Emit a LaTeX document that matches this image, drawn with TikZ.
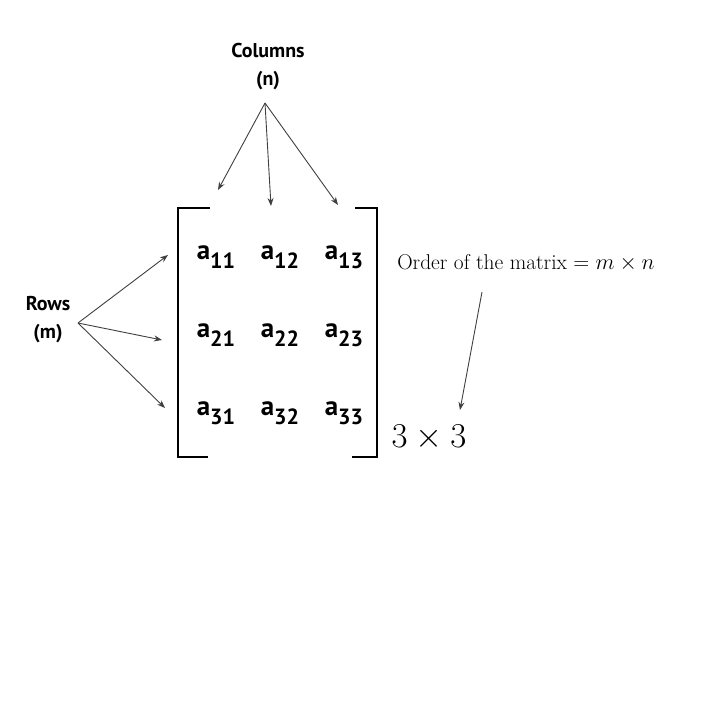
\documentclass[tikz,border=0pt]{standalone}
\usepackage{fontspec}
\newfontfamily\labelfont{PT Sans}
\usetikzlibrary{matrix,arrows.meta,positioning}
\tikzset{
  lbl/.style={font=\labelfont\bfseries\fontsize{20}{28}\selectfont,align=center,inner sep=1pt},
  ptr/.style={draw=black!75,line width=0.9pt,-{Stealth[length=8pt,width=6pt]}},
}
\newcommand{\ent}[2]{a\raisebox{-9pt}{\fontsize{22}{24}\selectfont#1#2}}
\begin{document}
\begin{tikzpicture}[x=1pt,y=-1pt]
            \useasboundingbox[fill=white] (0,0) rectangle (720,720);
            \matrix (m) [matrix of nodes,anchor=center,
                         nodes={font=\labelfont\bfseries\fontsize{27}{30}\selectfont,minimum width=64pt,minimum height=78pt,inner sep=0pt}]
                        at (280,335)
            {
\ent11 & \ent12 & \ent13 \\
\ent21 & \ent22 & \ent23 \\
\ent31 & \ent32 & \ent33 \\
            };
            % Brackets
            \draw[line width=1.5pt] (210,208) -- (178,208) -- (178,457) -- (208,457);
            \draw[line width=1.5pt] (355,208) -- (377,208) -- (377,457) -- (352,457);

            % Labels
            \node[lbl] (cols) at (268,67) {Columns\\(n)};
            \node[lbl] (rows) at (48,320) {Rows\\(m)};
            \node[font=\fontsize{20}{24}\selectfont,scale=1.07] (order) at (526,263) {Order of the matrix $= m\times n$};
            \node[font=\fontsize{24.88}{28}\selectfont,scale=1.4] (size) at (429,438) {$3\times3$};

            % Arrows
            \coordinate (ct) at (265,103);
            \coordinate (rt) at (78,323);
            \draw[ptr] (ct) -- (218,190);
            \draw[ptr] (ct) -- (271,206);
            \draw[ptr] (ct) -- (338,205);
            \draw[ptr] (rt) -- (168,255);
            \draw[ptr] (rt) -- (162,340);
            \draw[ptr] (rt) -- (165,408);
            \draw[ptr] (482,292) -- (460,410);
        \end{tikzpicture}
\end{document}
